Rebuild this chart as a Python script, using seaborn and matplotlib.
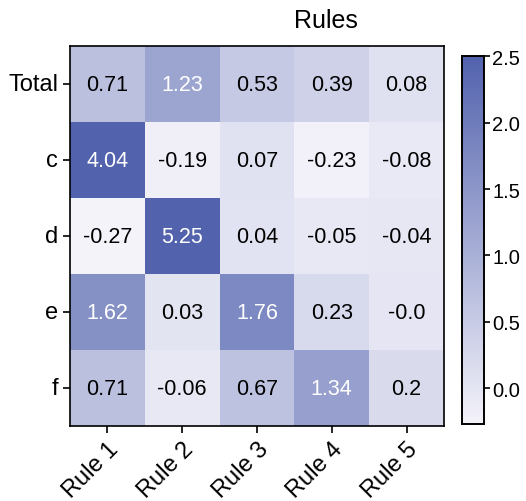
import numpy as np
import pandas as pd
import seaborn as sns
import matplotlib.pyplot as plt
from matplotlib.colors import LinearSegmentedColormap

plt.rcParams["font.family"] = ["Liberation Sans", "DejaVu Sans"]

rules = ["Rule 1", "Rule 2", "Rule 3", "Rule 4", "Rule 5"]
rows = ["Total", "c", "d", "e", "f"]
total = [0.71, 1.23, 0.53, 0.39, 0.08]
c_vals = [4.04, -0.19, 0.07, -0.23, -0.08]
d_vals = [-0.27, 5.25, 0.04, -0.05, -0.04]
e_vals = [1.62, 0.03, 1.76, 0.23, -0.0]
f_vals = [0.71, -0.06, 0.67, 1.34, 0.2]
labels = [["0.71", "1.23", "0.53", "0.39", "0.08"],
          ["4.04", "-0.19", "0.07", "-0.23", "-0.08"],
          ["-0.27", "5.25", "0.04", "-0.05", "-0.04"],
          ["1.62", "0.03", "1.76", "0.23", "-0.0"],
          ["0.71", "-0.06", "0.67", "1.34", "0.2"]]

df = pd.DataFrame([total, c_vals, d_vals, e_vals, f_vals], index=rows, columns=rules)

cmap = LinearSegmentedColormap.from_list("rules", ["#f4f3fa", "#5262ad"])

fig = plt.figure(figsize=(5.26, 5.02), dpi=100)
ax = fig.add_axes([0.133, 0.149, 0.711, 0.757])
cax = fig.add_axes([0.878, 0.153, 0.042, 0.733])

sns.heatmap(df, ax=ax, cbar_ax=cax, cmap=cmap, vmin=-0.27, vmax=2.5,
            annot=np.array(labels), fmt="", annot_kws={"size": 15.5})

# seaborn picks dark gray for light cells, reference uses pure black
for t in ax.texts:
    if t.get_color() != "w":
        t.set_color("black")

for s in ax.spines.values():
    s.set_visible(True)
    s.set_linewidth(1.2)
for s in cax.spines.values():
    s.set_visible(True)
    s.set_linewidth(1.2)

ax.tick_params(labelsize=17, length=5, width=1.2)
ax.set_yticklabels(rows, rotation=0)
ax.set_xticklabels(rules, rotation=45, ha="right", rotation_mode="anchor")
cax.tick_params(labelsize=14.5, length=4, width=1.2, pad=2)
cax.set_yticks([0.0, 0.5, 1.0, 1.5, 2.0, 2.5])
cax.set_yticklabels(["0.0", "0.5", "1.0", "1.5", "2.0", "2.5"])

fig.text(0.62, 0.958, "Rules", ha="center", va="center", fontsize=18)

fig.savefig("out.png", dpi=100)
